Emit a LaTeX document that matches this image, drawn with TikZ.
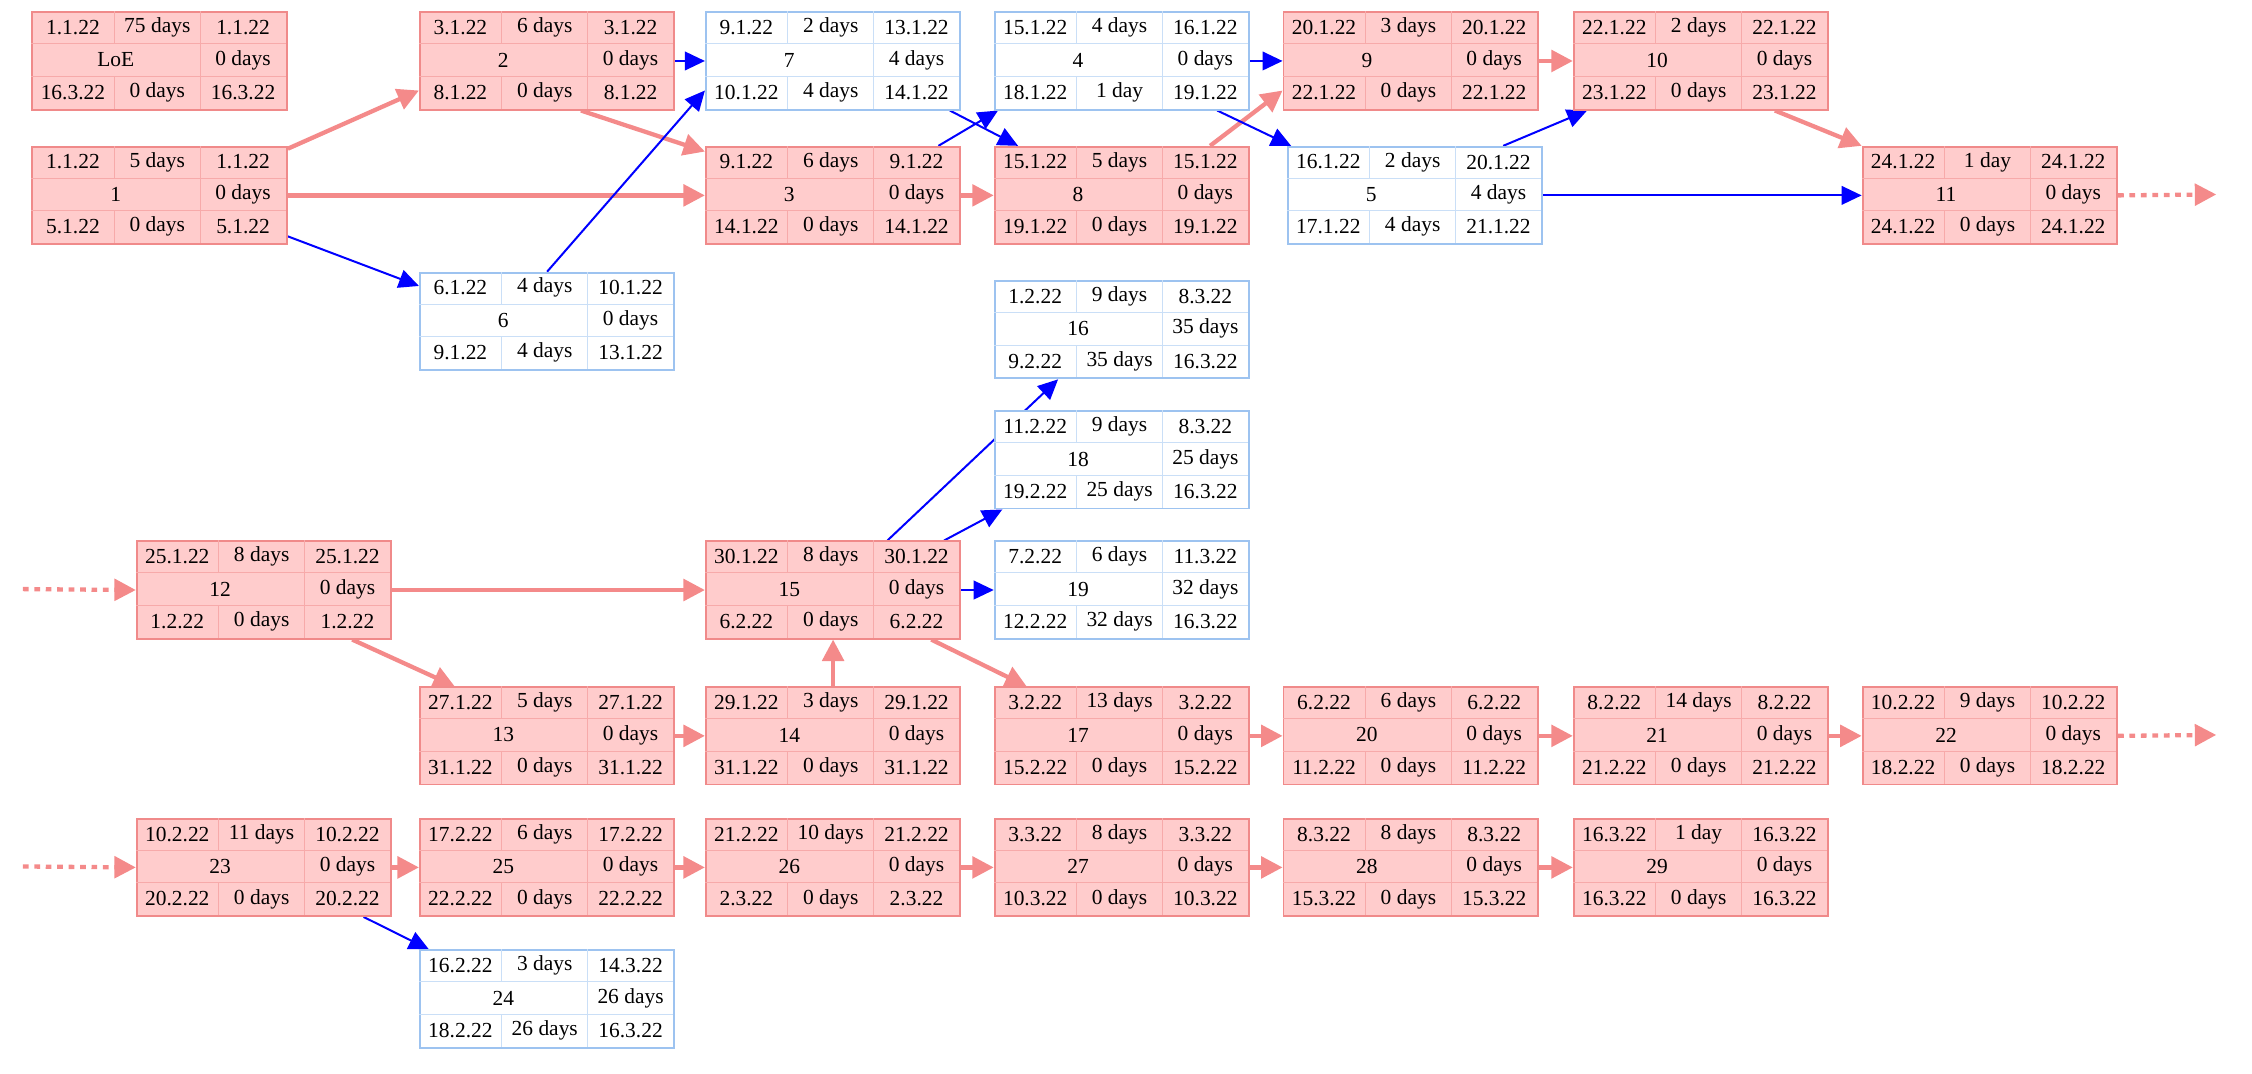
\documentclass[tikz,border=0pt]{standalone}
\usepackage{fontspec}
\setmainfont{Liberation Serif}
\usetikzlibrary{arrows.meta,backgrounds}
\definecolor{rfill}{HTML}{FFCCCC}
\definecolor{rline}{HTML}{F08A8A}
\definecolor{rin}{HTML}{F7AAAA}
\definecolor{redge}{HTML}{F48A8A}
\definecolor{bline}{HTML}{9DC3F0}
\definecolor{bin}{HTML}{CADFF7}
\tikzset{
 redbox/.style={draw=rline,fill=rfill,line width=1.3pt,minimum width=178pt,minimum height=68pt,inner sep=0,anchor=north west},
 bluebox/.style={draw=bline,fill=white,line width=1.3pt,minimum width=178pt,minimum height=68pt,inner sep=0,anchor=north west},
 redin/.style={draw=rin,line width=0.7pt},
 bluein/.style={draw=bin,line width=0.7pt},
 txt/.style={inner sep=0,font=\fontsize{15}{18}\selectfont},
 rarr/.style={draw=redge,line width=3pt,-{Triangle[length=15pt,width=15pt]}},
 barr/.style={draw=blue,line width=1.4pt,-{Triangle[length=14pt,width=13pt]}},
 rdot/.style={rarr,dash pattern=on 4pt off 4pt}
}
\newcommand\anybox[9]{%
 \node[#1box] (t#6) at (#2) {};
 \begin{scope}[shift={(#2)}]
  \draw[#1in] (0,22.67) -- (178,22.67) (0,45.33) -- (178,45.33)
   (118,0) -- (118,68) (58,0) -- (58,22.67) (58,45.33) -- (58,68);
  \node[txt] at (29,11.33) {#3};
  \node[txt] at (88,11.33) {#4};
  \node[txt] at (148,11.33) {#5};
  \node[txt] at (59,34) {#6};
 \end{scope}}
\newcommand\rbox[9]{\anybox{red}{#1}{#2}{#3}{#4}{#5}{#6}{#7}{#8}\rest{#1}{#6}{#7}{#8}{#9}}
\newcommand\bbox[9]{\anybox{blue}{#1}{#2}{#3}{#4}{#5}{#6}{#7}{#8}\rest{#1}{#6}{#7}{#8}{#9}}
\newcommand\rest[5]{%
 \begin{scope}[shift={(#1)}]
  \node[txt] at (148,34) {#2};
  \node[txt] at (29,56.67) {#3};
  \node[txt] at (88,56.67) {#4};
  \node[txt] at (148,56.67) {#5};
 \end{scope}}
\begin{document}
\begin{tikzpicture}[x=1pt,y=-1pt]
\useasboundingbox (0,0) rectangle (1575,751);
\rbox{22,8}{1.1.22}{75 days}{1.1.22}{LoE}{0 days}{16.3.22}{0 days}{16.3.22}
\rbox{22,102}{1.1.22}{5 days}{1.1.22}{1}{0 days}{5.1.22}{0 days}{5.1.22}
\rbox{293,8}{3.1.22}{6 days}{3.1.22}{2}{0 days}{8.1.22}{0 days}{8.1.22}
\rbox{493,102}{9.1.22}{6 days}{9.1.22}{3}{0 days}{14.1.22}{0 days}{14.1.22}
\bbox{293,190}{6.1.22}{4 days}{10.1.22}{6}{0 days}{9.1.22}{4 days}{13.1.22}
\bbox{493,8}{9.1.22}{2 days}{13.1.22}{7}{4 days}{10.1.22}{4 days}{14.1.22}
\bbox{695,8}{15.1.22}{4 days}{16.1.22}{4}{0 days}{18.1.22}{1 day}{19.1.22}
\rbox{695,102}{15.1.22}{5 days}{15.1.22}{8}{0 days}{19.1.22}{0 days}{19.1.22}
\rbox{897,8}{20.1.22}{3 days}{20.1.22}{9}{0 days}{22.1.22}{0 days}{22.1.22}
\rbox{1100,8}{22.1.22}{2 days}{22.1.22}{10}{0 days}{23.1.22}{0 days}{23.1.22}
\bbox{900,102}{16.1.22}{2 days}{20.1.22}{5}{4 days}{17.1.22}{4 days}{21.1.22}
\rbox{1302,102}{24.1.22}{1 day}{24.1.22}{11}{0 days}{24.1.22}{0 days}{24.1.22}
\bbox{695,196}{1.2.22}{9 days}{8.3.22}{16}{35 days}{9.2.22}{35 days}{16.3.22}
\bbox{695,287}{11.2.22}{9 days}{8.3.22}{18}{25 days}{19.2.22}{25 days}{16.3.22}
\bbox{695,378}{7.2.22}{6 days}{11.3.22}{19}{32 days}{12.2.22}{32 days}{16.3.22}
\rbox{95,378}{25.1.22}{8 days}{25.1.22}{12}{0 days}{1.2.22}{0 days}{1.2.22}
\rbox{493,378}{30.1.22}{8 days}{30.1.22}{15}{0 days}{6.2.22}{0 days}{6.2.22}
\rbox{293,480}{27.1.22}{5 days}{27.1.22}{13}{0 days}{31.1.22}{0 days}{31.1.22}
\rbox{493,480}{29.1.22}{3 days}{29.1.22}{14}{0 days}{31.1.22}{0 days}{31.1.22}
\rbox{695,480}{3.2.22}{13 days}{3.2.22}{17}{0 days}{15.2.22}{0 days}{15.2.22}
\rbox{897,480}{6.2.22}{6 days}{6.2.22}{20}{0 days}{11.2.22}{0 days}{11.2.22}
\rbox{1100,480}{8.2.22}{14 days}{8.2.22}{21}{0 days}{21.2.22}{0 days}{21.2.22}
\rbox{1302,480}{10.2.22}{9 days}{10.2.22}{22}{0 days}{18.2.22}{0 days}{18.2.22}
\rbox{95,572}{10.2.22}{11 days}{10.2.22}{23}{0 days}{20.2.22}{0 days}{20.2.22}
\rbox{293,572}{17.2.22}{6 days}{17.2.22}{25}{0 days}{22.2.22}{0 days}{22.2.22}
\rbox{493,572}{21.2.22}{10 days}{21.2.22}{26}{0 days}{2.3.22}{0 days}{2.3.22}
\rbox{695,572}{3.3.22}{8 days}{3.3.22}{27}{0 days}{10.3.22}{0 days}{10.3.22}
\rbox{897,572}{8.3.22}{8 days}{8.3.22}{28}{0 days}{15.3.22}{0 days}{15.3.22}
\rbox{1100,572}{16.3.22}{1 day}{16.3.22}{29}{0 days}{16.3.22}{0 days}{16.3.22}
\bbox{293,664}{16.2.22}{3 days}{14.3.22}{24}{26 days}{18.2.22}{26 days}{16.3.22}
\coordinate (out1) at (1550,136);
\coordinate (out2) at (1550,514);
\coordinate (in1) at (16,412);
\coordinate (in2) at (16,606);
\begin{pgfonlayer}{background}
\draw[rarr] ([yshift=-2]t1.north east) -- ([yshift=14]t2.south west);
\draw[rarr] (t1.east) -- (t3.west);
\draw[barr] ([yshift=6]t1.south east) -- ([yshift=-10]t6.north west);
\draw[barr] (t2.east) -- (t7.west);
\draw[rarr] ([xshift=-66]t2.south east) -- ([yshift=-4]t3.north west);
\draw[barr] (t6.north) -- ([yshift=14]t7.south west);
\draw[barr] ([xshift=-16]t3.north east) -- ([xshift=3]t4.south west);
\draw[barr] ([xshift=-8]t7.south east) -- ([xshift=17]t8.north west);
\draw[rarr] (t3.east) -- (t8.west);
\draw[rarr] ([xshift=-28]t8.north east) -- ([yshift=14]t9.south west);
\draw[barr] (t4.east) -- (t9.west);
\draw[barr] ([xshift=-23]t4.south east) -- ([xshift=3]t5.north west);
\draw[rarr] (t9.east) -- (t10.west);
\draw[barr] ([xshift=-28]t5.north east) -- ([xshift=10]t10.south west);
\draw[rarr] ([xshift=-38]t10.south east) -- (t11.north west);
\draw[barr] (t5.east) -- (t11.west);
\draw[rdot] (t11.east) -- (out1);
\draw[rdot] (in1) -- (t12.west);
\draw[rarr] (t12.east) -- (t15.west);
\draw[rarr] ([xshift=-28]t12.south east) -- ([xshift=25]t13.north west);
\draw[rarr] (t13.east) -- (t14.west);
\draw[rarr] (t14.north) -- (t15.south);
\draw[barr] ([xshift=38]t15.north) -- ([xshift=45]t16.south west);
\draw[barr] ([xshift=-12]t15.north east) -- ([xshift=6]t18.south west);
\draw[barr] (t15.east) -- (t19.west);
\draw[rarr] ([xshift=-21]t15.south east) -- ([xshift=23]t17.north west);
\draw[rarr] (t17.east) -- (t20.west);
\draw[rarr] (t20.east) -- (t21.west);
\draw[rarr] (t21.east) -- (t22.west);
\draw[rdot] (t22.east) -- (out2);
\draw[rdot] (in2) -- (t23.west);
\draw[rarr] (t23.east) -- (t25.west);
\draw[rarr] (t25.east) -- (t26.west);
\draw[rarr] (t26.east) -- (t27.west);
\draw[rarr] (t27.east) -- (t28.west);
\draw[rarr] (t28.east) -- (t29.west);
\draw[barr] ([xshift=-20]t23.south east) -- ([xshift=7]t24.north west);
\end{pgfonlayer}
\end{tikzpicture}
\end{document}
